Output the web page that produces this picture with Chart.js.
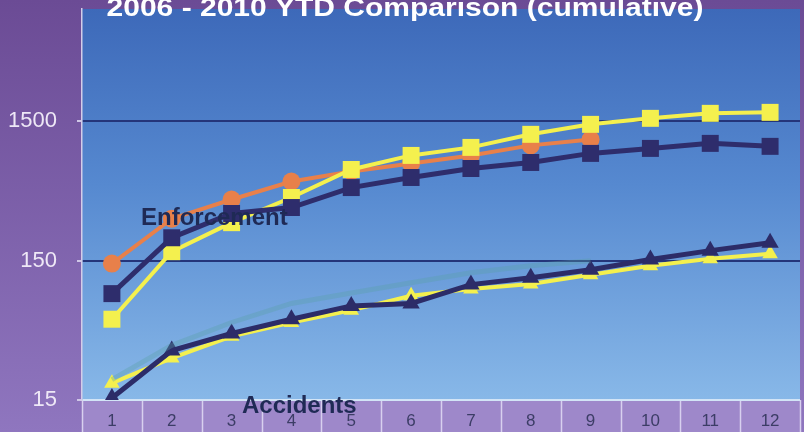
<!DOCTYPE html>
<html>
<head>
<meta charset="utf-8">
<script src="https://cdn.jsdelivr.net/npm/chart.js@4.4.1/dist/chart.umd.min.js"></script>
<style>
    html, body { margin: 0; padding: 0; background: #7a5ca6; }
    #wrap { width: 804px; height: 432px; }
</style>
</head>
<body>
<div id="wrap"><canvas id="ytdChart" width="804" height="432"></canvas></div>
<script>
const months = ['1', '2', '3', '4', '5', '6', '7', '8', '9', '10', '11', '12']
const yTicks = [15, 150, 1500]
const chartTitle = '2006 - 2010 YTD Comparison (cumulative)'

// enforcement, cumulative
const enforcementNavy = [87, 219, 327, 361, 502, 593, 688, 760, 883, 959, 1042, 992]
const enforcementYellow = [57, 174, 281, 426, 677, 854, 975, 1210, 1427, 1576, 1712, 1740]
const enforcementOrange = [143, 300, 412, 555, 655, 748, 854, 1008, 1113]

// accidents, cumulative
const accidentsNavy = [15.5, 34, 45, 57, 71, 74, 101, 113, 129, 153, 177, 202]
const accidentsYellow = [19.8, 30, 43, 54, 66, 84, 94, 102, 119, 138, 155, 168]
const accidentsTeal = [21, 37, 54, 74, 88, 104, 123, 138, 150]

const backdrop = {
    id: 'backdrop',
    beforeDraw(chart) {
        const { ctx, chartArea: a, width, height } = chart
        ctx.save()
        let g = ctx.createLinearGradient(0, 0, 0, height)
        g.addColorStop(0, '#6b4b95')
        g.addColorStop(1, '#8f76bf')
        ctx.fillStyle = g
        ctx.fillRect(0, 0, width, height)

        ctx.fillStyle = '#9e88ca'
        ctx.fillRect(a.left, a.bottom, a.right - a.left, height - a.bottom)

        g = ctx.createLinearGradient(0, a.top, 0, a.bottom)
        g.addColorStop(0, '#3d69b9')
        g.addColorStop(0.45, '#5689d0')
        g.addColorStop(1, '#88b8e8')
        ctx.fillStyle = g
        ctx.fillRect(a.left, a.top, a.right - a.left, a.bottom - a.top)

        // dividers between the month cells of the bottom band
        const x = chart.scales.x
        const half = (x.getPixelForValue(1) - x.getPixelForValue(0)) / 2
        ctx.strokeStyle = '#d8d0ef'
        ctx.lineWidth = 1.5
        for (let i = 0; i <= months.length; i++) {
            const px = Math.round(x.getPixelForValue(i) - half) + 0.5
            ctx.beginPath()
            ctx.moveTo(px, a.bottom)
            ctx.lineTo(px, height)
            ctx.stroke()
        }
        ctx.restore()
    }
}

const labels = {
    id: 'labels',
    afterDatasetsDraw(chart) {
        const { ctx } = chart
        ctx.save()
        ctx.font = 'bold 24px "Liberation Sans", Arial, sans-serif'
        ctx.fillStyle = '#1f2a55'
        ctx.textAlign = 'left'
        ctx.textBaseline = 'alphabetic'
        ctx.fillText('Enforcement', 141, 225)
        ctx.fillText('Accidents', 242, 413)
        ctx.restore()
    },
    afterDraw(chart) {
        const { ctx } = chart
        ctx.save()
        ctx.translate(405, 16)
        ctx.scale(1.2, 1)
        ctx.font = 'bold 25px "Liberation Sans", Arial, sans-serif'
        ctx.fillStyle = '#ffffff'
        ctx.textAlign = 'center'
        ctx.fillText(chartTitle, 0, 0)
        ctx.restore()
    }
}

function series(data, color, style, radius, width) {
    return {
        data: data,
        borderColor: color,
        backgroundColor: color,
        borderWidth: width,
        pointStyle: style,
        pointRadius: radius,
        pointBorderWidth: 0,
        pointBackgroundColor: color,
        tension: 0
    }
}

function noPadding(s) {
    s.paddingTop = 0
    s.paddingBottom = 0
    s.paddingLeft = 0
    s.paddingRight = 0
}

const ctx = document.getElementById('ytdChart').getContext('2d')
new Chart(ctx, {
    type: 'line',
    data: {
        labels: months,
        datasets: [
            series(accidentsTeal, 'rgba(90, 160, 165, 0.35)', false, 0, 5),
            series(accidentsNavy, '#2c2c68', 'triangle', 10, 5),
            series(accidentsYellow, '#f4f04e', 'triangle', 9, 4),
            series(enforcementNavy, '#2e2d6c', 'rect', 12, 5),
            series(enforcementYellow, '#f4f04e', 'rect', 12, 4),
            series(enforcementOrange, '#e8804a', 'circle', 9, 4)
        ]
    },
    options: {
        responsive: false,
        animation: false,
        devicePixelRatio: 1,
        layout: { autoPadding: false, padding: { top: 9, right: 4, left: 0, bottom: 0 } },
        plugins: {
            legend: { display: false },
            tooltip: { enabled: false }
        },
        scales: {
            x: {
                offset: true,
                afterFit: s => { s.height = 32; noPadding(s) },
                grid: { display: false, drawTicks: false },
                border: { display: false },
                ticks: {
                    color: '#3c3d66',
                    font: { family: 'Liberation Sans', size: 17 },
                    padding: 11,
                    maxRotation: 0
                }
            },
            y: {
                type: 'logarithmic',
                min: 15,
                max: 9600,
                afterBuildTicks: s => { s.ticks = yTicks.map(v => ({ value: v })) },
                afterFit: s => { s.width = 82; noPadding(s) },
                border: { color: '#d4cce8', width: 1.5 },
                grid: {
                    color: c => (c.tick && c.tick.value === 15 ? '#d2e4f6' : '#24357a'),
                    lineWidth: 2,
                    tickLength: 5,
                    tickColor: '#cfc6e6'
                },
                ticks: {
                    color: '#eee8f6',
                    font: { family: 'Liberation Sans', size: 22 },
                    padding: 20,
                    callback: v => String(v)
                }
            }
        }
    },
    plugins: [backdrop, labels]
})
</script>
</body>
</html>
